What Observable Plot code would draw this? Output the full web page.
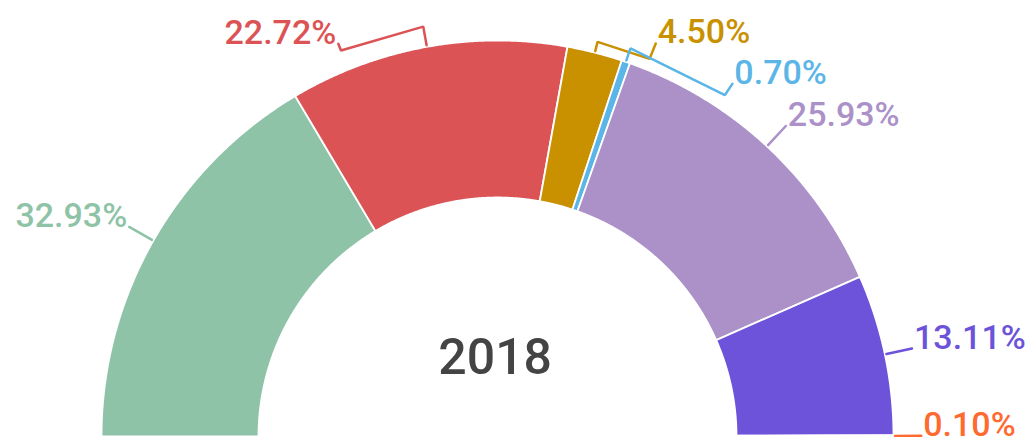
<!DOCTYPE html>
<html><head><meta charset="utf-8">
<script src="https://cdn.jsdelivr.net/npm/d3@7"></script>
<script src="https://cdn.jsdelivr.net/npm/@observablehq/plot@0.6"></script>
<style>html,body{margin:0;padding:0;background:#fff;}</style>
</head><body><div id="chart"></div>
<script>
// ---- data ----
const sliceIds = ["s1", "s2", "s3", "s4", "s5", "s6", "s7"];
const shares = [32.93, 22.72, 4.50, 0.70, 25.93, 13.11, 0.10];
const sliceColors = ["#8fc3a8", "#dc5356", "#c99000", "#5bb5e6", "#ab91c8", "#6c53d9", "#ff6a33"];
const centerLabel = "2018";

// ---- layout (label placement for crowded slices) ----
const labelShift = [0, 11.8, -7.7, -14.75, 0, 0, 0];   // degrees
const elbowR = [1.07, 1.052, 1.028, 1.036, 1.07, 1.07, 1.07];
const labelR = 1.07;

const W = 1028, H = 437, cx = 497, cy = 436, R = 396;
const innerR = 239 / 396;
const total = d3.sum(shares);
const rad = a => a * Math.PI / 180;
const pt = (a, r) => [r * Math.cos(rad(a)), r * Math.sin(rad(a))];

const slicePolys = [];
const labelRows = [];
const leaderRows = [];
let acc = 0;
shares.forEach((v, i) => {
  const a0 = 180 - 180 * acc / total;
  acc += v;
  const a1 = 180 - 180 * acc / total;
  const n = Math.max(2, Math.ceil((a0 - a1) / 0.2));
  const poly = [];
  for (let k = 0; k <= n; k++) {
    const a = a0 + (a1 - a0) * k / n;
    const [x, y] = pt(a, 1);
    poly.push({id: sliceIds[i], x, y});
  }
  for (let k = n; k >= 0; k--) {
    const a = a0 + (a1 - a0) * k / n;
    const [x, y] = pt(a, innerR);
    poly.push({id: sliceIds[i], x, y});
  }
  poly.push({...poly[0]});
  slicePolys.push(poly);

  const mid = (a0 + a1) / 2;
  const la = mid + labelShift[i];
  const path = [pt(mid, 1.004), pt(mid, elbowR[i])];
  if (labelShift[i] !== 0) path.push(pt(la, elbowR[i]));
  path.push(pt(la, labelR));
  path.forEach(([x, y]) => leaderRows.push({id: sliceIds[i], x, y, color: sliceColors[i]}));
  const [lx, ly] = pt(la, labelR);
  labelRows.push({id: sliceIds[i], x: lx, y: ly, text: v.toFixed(2) + "%", color: sliceColors[i], side: lx < 0 ? "left" : "right"});
});

const chart = Plot.plot({
  width: W, height: H,
  margin: 0,
  x: {domain: [(0 - cx) / R, (W - cx) / R], range: [0, W], axis: null},
  y: {domain: [(cy - H) / R, cy / R], range: [H, 0], axis: null},
  color: {type: "identity"},
  style: {fontFamily: "Roboto, 'Noto Sans', sans-serif", background: "#fff"},
  marks: [
    ...slicePolys.map((poly, i) => Plot.line(poly, {
      x: "x", y: "y", fill: sliceColors[i], stroke: "#fff", strokeWidth: 1.8, curve: "linear", strokeLinejoin: "miter"
    })),
    Plot.line(leaderRows, {x: "x", y: "y", z: "id", stroke: "color", strokeWidth: 2.5, curve: "linear", strokeLinejoin: "miter"}),
    Plot.text(labelRows.filter(d => d.side === "right"), {
      x: "x", y: "y", text: "text", fill: "color", textAnchor: "start", lineAnchor: "bottom", dx: 2, fontSize: 34, fontWeight: 500
    }),
    Plot.text(labelRows.filter(d => d.side === "left"), {
      x: "x", y: "y", text: "text", fill: "color", textAnchor: "end", lineAnchor: "bottom", dx: -2, fontSize: 34, fontWeight: 500
    }),
    Plot.text([centerLabel], {
      x: () => -0.006, y: () => (cy - 373) / R, text: d => d, fill: "#444", fontSize: 50, fontWeight: 500, lineAnchor: "bottom"
    })
  ]
});
document.getElementById("chart").appendChild(chart);
</script>
</body></html>
